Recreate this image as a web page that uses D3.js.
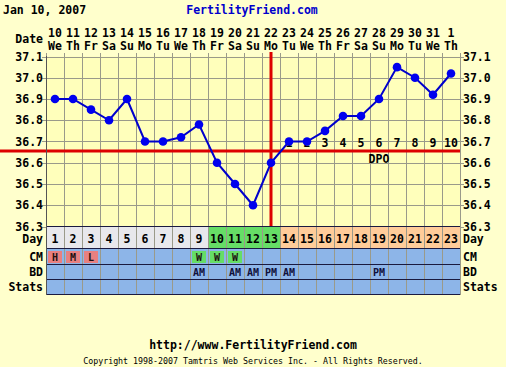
<!DOCTYPE html>
<html><head><meta charset="utf-8">
<script src="https://cdn.jsdelivr.net/npm/d3@7"></script>
<style>html,body{margin:0;padding:0;background:#FFFFCC;}svg{display:block;}</style>
</head><body>
<script>
const days = d3.range(1, 24);
const dates = ["10","11","12","13","14","15","16","17","18","19","20","21","22","23","24","25","26","27","28","29","30","31","1"];
const weekdays = ["We","Th","Fr","Sa","Su","Mo","Tu","We","Th","Fr","Sa","Su","Mo","Tu","We","Th","Fr","Sa","Su","Mo","Tu","We","Th"];
const temps = [36.9,36.9,36.85,36.8,36.9,36.7,36.7,36.72,36.78,36.6,36.5,36.4,36.6,36.7,36.7,36.75,36.82,36.82,36.9,37.05,37.0,36.92,37.02];
const tempTicks = [36.3,36.4,36.5,36.6,36.7,36.8,36.9,37.0,37.1];
const coverline = 36.655;
const ovulationDay = 13;
const dpoLabels = ["1","2","3","4","5","6","7","8","9","10"];
const dayPhase = ["g","g","g","g","g","g","g","g","g","f","f","f","f","l","l","l","l","l","l","l","l","l","l"];
const cm = ["H","M","L","","","","","","W","W","W","","","","","","","","","","","",""];
const bd = ["","","","","","","","","AM","","AM","AM","PM","AM","","","","","PM","","","",""];
const rowLabels = ["Day","CM","BD","Stats"];

const W = 506, H = 367;
const svg = d3.select("body").append("svg").attr("width", W).attr("height", H);
const FONT = "'DejaVu Sans Mono', monospace";

const x = d3.scaleBand().domain(days).range([46, 460]).padding(0);
const y = d3.scaleLinear().domain([36.3, 37.1]).range([226.5, 56.5]);
const cx = d => x(d) + x.bandwidth() / 2;

const grid = "#9a9a8a";

// header
svg.append("text").attr("x", 3).attr("y", 14).text("Jan 10, 2007")
  .attr("font-family", FONT).attr("font-weight", "bold").attr("font-size", 11.5).attr("fill", "#000");
svg.append("text").attr("x", 252).attr("y", 14).attr("text-anchor", "middle").text("FertilityFriend.com")
  .attr("font-family", FONT).attr("font-weight", "bold").attr("font-size", 11.5).attr("fill", "#0000CC");

// Date label + dates
svg.append("text").attr("x", 43).attr("y", 43).attr("text-anchor", "end").text("Date")
  .attr("font-family", FONT).attr("font-weight", "bold").attr("font-size", 11.5);
svg.selectAll(".dt").data(days).join("text").attr("x", d => cx(d)).attr("y", 37)
  .attr("text-anchor", "middle").text((d, i) => dates[i])
  .attr("font-family", FONT).attr("font-weight", "bold").attr("font-size", 11.5);
svg.selectAll(".wd").data(days).join("text").attr("x", d => cx(d)).attr("y", 50)
  .attr("text-anchor", "middle").text((d, i) => weekdays[i])
  .attr("font-family", FONT).attr("font-weight", "bold").attr("font-size", 11.5);

// plot background
svg.append("rect").attr("x", 46).attr("y", y(37.1)).attr("width", 414).attr("height", y(36.3) - y(37.1)).attr("fill", "#FFFFBB");

// vertical grid
const vlines = d3.range(0, 24);
svg.selectAll(".vg").data(vlines).join("line")
  .attr("x1", i => Math.round(46 + i * x.bandwidth()) + 0.5).attr("x2", i => Math.round(46 + i * x.bandwidth()) + 0.5)
  .attr("y1", 53).attr("y2", 295).attr("stroke", grid).attr("stroke-width", 1);
// horizontal grid
svg.selectAll(".hg").data(tempTicks).join("line")
  .attr("x1", 42).attr("x2", 464).attr("y1", d => Math.round(y(d)) + 0.5).attr("y2", d => Math.round(y(d)) + 0.5)
  .attr("stroke", grid).attr("stroke-width", 1);

// axis labels
const yl = svg.selectAll(".yl").data(tempTicks).join("text").attr("x", 43).attr("y", d => y(d) + 4)
  .attr("text-anchor", "end").text(d => d.toFixed(1))
  .attr("font-family", FONT).attr("font-weight", "bold").attr("font-size", 11.5);
svg.selectAll(".yr").data(tempTicks).join("text").attr("x", 463).attr("y", d => y(d) + 4)
  .attr("text-anchor", "start").text(d => d.toFixed(1))
  .attr("font-family", FONT).attr("font-weight", "bold").attr("font-size", 11.5);

// coverline and ovulation line
svg.append("line").attr("x1", 0).attr("x2", 460).attr("y1", y(coverline)).attr("y2", y(coverline))
  .attr("stroke", "#DD0000").attr("stroke-width", 3);
svg.append("line").attr("x1", cx(ovulationDay)).attr("x2", cx(ovulationDay)).attr("y1", 52).attr("y2", 227)
  .attr("stroke", "#DD0000").attr("stroke-width", 3);

// DPO labels
svg.selectAll(".dpo").data(dpoLabels).join("text").attr("x", (d, i) => cx(ovulationDay + 1 + i)).attr("y", 147)
  .attr("text-anchor", "middle").text(d => d)
  .attr("font-family", FONT).attr("font-weight", "bold").attr("font-size", 11.5);
svg.append("text").attr("x", cx(19)).attr("y", 163).attr("text-anchor", "middle").text("DPO")
  .attr("font-family", FONT).attr("font-weight", "bold").attr("font-size", 11.5);

// temperature line
const line = d3.line().x((d, i) => cx(days[i])).y(d => y(d));
svg.append("path").datum(temps).attr("d", line).attr("fill", "none").attr("stroke", "#0000CC").attr("stroke-width", 2);
svg.selectAll(".pt").data(temps).join("circle").attr("cx", (d, i) => cx(days[i])).attr("cy", d => y(d))
  .attr("r", 4.3).attr("fill", "#0000EE");

// bottom rows
const rowTop = [227, 249, 265, 280];
const rowBot = [248, 264, 279, 294];
const phaseColor = {g: "#E8E8EC", f: "#66DD66", l: "#FFCC99"};
svg.selectAll(".dayc").data(days).join("rect").attr("x", d => x(d)).attr("y", rowTop[0])
  .attr("width", x.bandwidth()).attr("height", rowBot[0] - rowTop[0])
  .attr("fill", (d, i) => phaseColor[dayPhase[i]]);
for (let r = 1; r < 4; r++) {
  svg.append("rect").attr("x", 46).attr("y", rowTop[r]).attr("width", 414).attr("height", rowBot[r] - rowTop[r]).attr("fill", "#8DB5E8");
}
// CM cells
svg.selectAll(".cmc").data(days.filter((d, i) => cm[i])).join("rect")
  .attr("x", d => x(d) + 2).attr("y", rowTop[1] + 2).attr("width", x.bandwidth() - 4).attr("height", rowBot[1] - rowTop[1] - 3)
  .attr("fill", d => cm[d - 1] === "W" ? "#66DD66" : "#E88080");
// grid in rows
svg.selectAll(".vg2").data(vlines).join("line")
  .attr("x1", i => Math.round(46 + i * x.bandwidth()) + 0.5).attr("x2", i => Math.round(46 + i * x.bandwidth()) + 0.5)
  .attr("y1", 227).attr("y2", 295).attr("stroke", grid).attr("stroke-width", 1);
// row separators
[226, 248, 264, 279, 294].forEach(v => {
  svg.append("line").attr("x1", 46).attr("x2", 460).attr("y1", v + 0.5).attr("y2", v + 0.5).attr("stroke", "#1a1a40").attr("stroke-width", 1.2);
});
svg.append("line").attr("x1", 46.5).attr("x2", 46.5).attr("y1", 56).attr("y2", 295).attr("stroke", "#555").attr("stroke-width", 1);

// row texts
svg.selectAll(".dn").data(days).join("text").attr("x", d => cx(d)).attr("y", 243)
  .attr("text-anchor", "middle").text(d => d)
  .attr("font-family", FONT).attr("font-weight", "bold").attr("font-size", 11.5);
svg.selectAll(".cmt").data(days.filter((d, i) => cm[i])).join("text").attr("x", d => cx(d)).attr("y", 261)
  .attr("text-anchor", "middle").text(d => cm[d - 1])
  .attr("font-family", FONT).attr("font-weight", "bold").attr("font-size", 10).attr("fill", "#201010");
svg.selectAll(".bdt").data(days.filter((d, i) => bd[i])).join("text").attr("x", d => cx(d)).attr("y", 276)
  .attr("text-anchor", "middle").text(d => bd[d - 1])
  .attr("font-family", FONT).attr("font-weight", "bold").attr("font-size", 10).attr("fill", "#10103a");
const rowMid = [243, 261, 276, 291];
rowLabels.forEach((t, i) => {
  svg.append("text").attr("x", 43).attr("y", rowMid[i]).attr("text-anchor", "end").text(t)
    .attr("font-family", FONT).attr("font-weight", "bold").attr("font-size", 11.5);
  svg.append("text").attr("x", 463).attr("y", rowMid[i]).attr("text-anchor", "start").text(t)
    .attr("font-family", FONT).attr("font-weight", "bold").attr("font-size", 11.5);
});

// footer
svg.append("text").attr("x", 253).attr("y", 349).attr("text-anchor", "middle").text("http://www.FertilityFriend.com")
  .attr("font-family", FONT).attr("font-weight", "bold").attr("font-size", 11.5);
svg.append("text").attr("x", 253).attr("y", 364).attr("text-anchor", "middle")
  .text("Copyright 1998-2007 Tamtris Web Services Inc. - All Rights Reserved.")
  .attr("font-family", FONT).attr("font-size", 8.3);
</script>
</body></html>
